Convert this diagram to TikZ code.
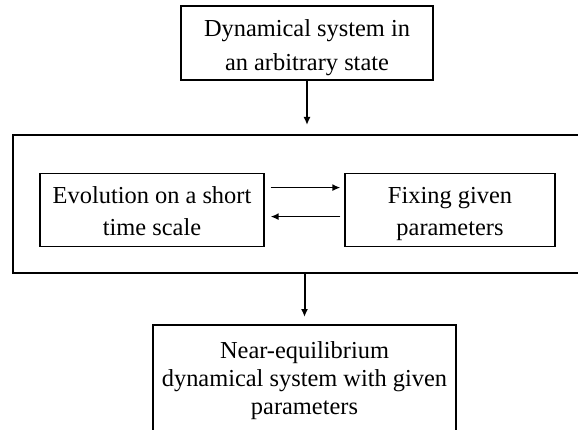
\documentclass[tikz,border=0pt]{standalone}
\usepackage{fontspec}
\setmainfont{Liberation Serif}
\usetikzlibrary{arrows.meta}
\begin{document}
\begin{tikzpicture}[x=0.5pt,y=0.5pt,
  box/.style={draw, line width=1pt, align=center, inner sep=0pt, anchor=north},
  smallbox/.style={draw, line width=0.6pt, align=center, inner sep=0pt, anchor=north,
    font={\fontsize{12.2}{16}\selectfont}},
  arr/.style={-{Latex[length=4pt,width=3.5pt]}, line width=1pt}]
\useasboundingbox (0,0) rectangle (578,429);
\clip (0,0) rectangle (578,429);

\node[box, minimum width=126pt, font={\fontsize{12.2}{17}\selectfont}] (start) at (307,424)
  {\rule{0pt}{15.5pt}Dynamical system in\\ an arbitrary state\rule[-4.5pt]{0pt}{4.5pt}};
\node[box, minimum width=285.25pt, minimum height=69pt, anchor=center] (frame) at (297.75,225) {};
\node[smallbox, minimum width=112pt] (evo) at (152,256)
  {\rule{0pt}{15pt}Evolution on a short\\time scale\rule[-5.5pt]{0pt}{5.5pt}};
\node[smallbox, minimum width=105pt] (fix) at (450,256)
  {\rule{0pt}{15pt}Fixing given\\parameters\rule[-5.5pt]{0pt}{5.5pt}};
\node[box, minimum width=151.5pt, font={\fontsize{12.2}{14}\selectfont}] (result) at (304.5,105)
  {\rule{0pt}{16.5pt}Near-equilibrium\\dynamical system with given\\parameters\rule[-10pt]{0pt}{10pt}};

\draw[arr] (start.south) -- ++(0,-44);
\draw[arr, line width=0.8pt, shorten <=3pt, shorten >=2pt] ([yshift=11.25pt]evo.east) -- ([yshift=11.25pt]fix.west);
\draw[arr, line width=0.8pt, shorten <=2pt, shorten >=3pt] ([yshift=-3.25pt]fix.west) -- ([yshift=-3.25pt]evo.east);
\draw[arr, shorten >=3.5pt] (result.north |- frame.south) -- (result.north);
\end{tikzpicture}
\end{document}
